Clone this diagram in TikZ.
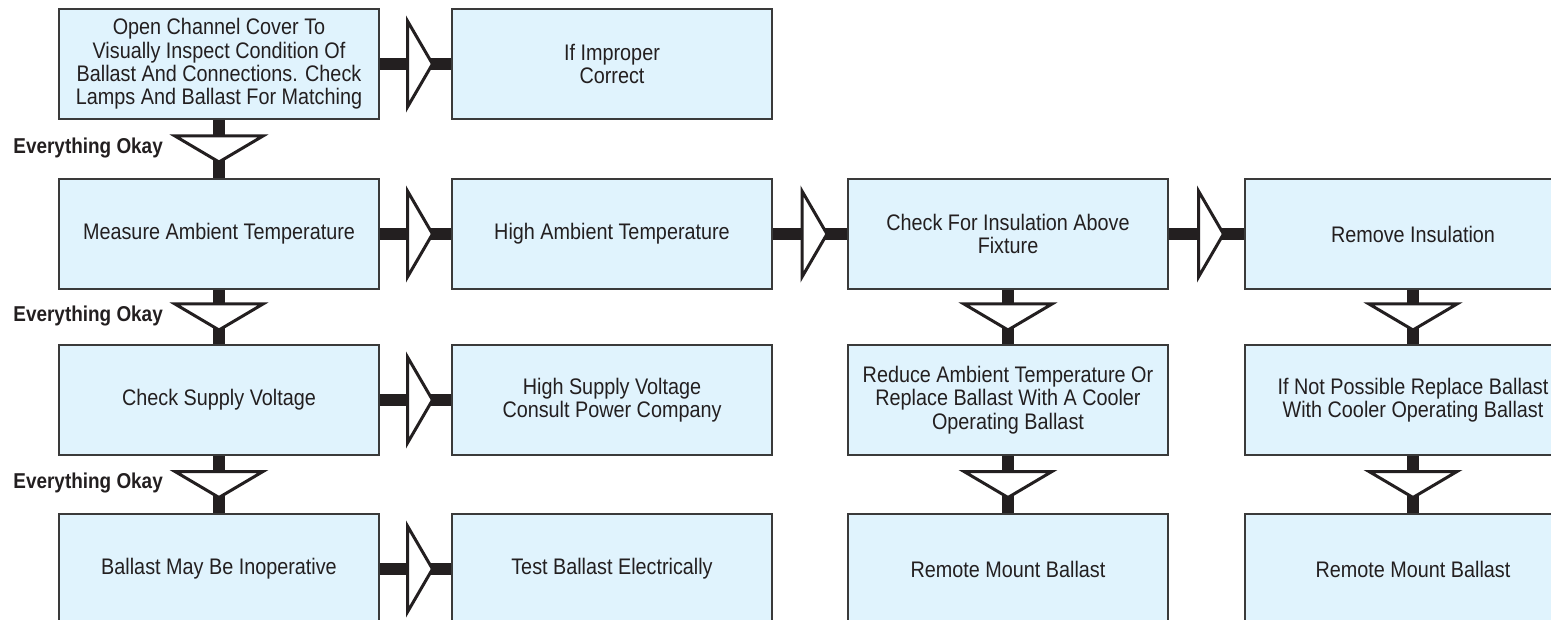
\documentclass[tikz,border=0pt]{standalone}
\usepackage{fontspec}
\setmainfont{Liberation Sans}[FakeStretch=0.88]
\usepackage{tikz}
\usetikzlibrary{positioning,calc}

\definecolor{boxfill}{RGB}{224,243,253}
\definecolor{boxline}{RGB}{58,58,58}
\definecolor{ink}{RGB}{35,31,32}

\begin{document}
\begin{tikzpicture}[
    x=1pt, y=-1pt,
    box/.style={draw=boxline, line width=2pt, fill=boxfill, text=ink, align=center, inner sep=0pt, minimum width=320pt, minimum height=110pt, font=\fontsize{22.5}{23.4}\selectfont},
    widebox/.style={box, minimum width=336pt},
    bar/.style={draw=ink, line width=12pt},
    tri/.style={draw=ink, fill=white, line width=3pt, line join=miter},
    oklabel/.style={text=ink, inner sep=0pt, font=\bfseries\fontsize{21.5}{24}\selectfont}
]
\useasboundingbox (0,0) rectangle (1551,620);

\node[box] (open) at (219,64) {Open Channel Cover To\\Visually Inspect Condition Of\\Ballast And Connections. Check\\Lamps And Ballast For Matching};
\node[box] (improper) at (612,64) {If Improper\\Correct};

\node[box] (ambient) at (219,234) {Measure Ambient Temperature};
\node[box] (hightemp) at (612,234) {High Ambient Temperature};
\node[box] (insul) at (1008,234) {Check For Insulation Above\\Fixture};
\node[widebox] (remove) at (1413,234) {Remove Insulation};

\node[box] (supply) at (219,400) {Check Supply Voltage};
\node[box] (highvolt) at (612,400) {High Supply Voltage\\Consult Power Company};
\node[box] (reduce) at (1008,400) {Reduce Ambient Temperature Or\\Replace Ballast With A Cooler\\Operating Ballast};
\node[widebox] (notposs) at (1413,400) {If Not Possible Replace Ballast\\With Cooler Operating Ballast};

\node[box] (inop) at (219,569) {Ballast May Be Inoperative};
\node[box] (test) at (612,569) {Test Ballast Electrically};
\node[box] (remote1) at (1008,569) {Remote Mount Ballast};
\node[widebox] (remote2) at (1413,569) {Remote Mount Ballast};

% sideways steps
\draw[bar] (open) -- (improper);
\draw[tri] ($(open.east)!0.5!(improper.west)+(-8,-43)$) -- ++(25,43) -- ++(-25,43) -- cycle;
\draw[bar] (ambient) -- (hightemp);
\draw[tri] ($(ambient.east)!0.5!(hightemp.west)+(-8,-43)$) -- ++(25,43) -- ++(-25,43) -- cycle;
\draw[bar] (hightemp) -- (insul);
\draw[tri] ($(hightemp.east)!0.5!(insul.west)+(-8,-43)$) -- ++(25,43) -- ++(-25,43) -- cycle;
\draw[bar] (insul) -- (remove);
\draw[tri] ($(insul.east)!0.5!(remove.west)+(-8,-43)$) -- ++(25,43) -- ++(-25,43) -- cycle;
\draw[bar] (supply) -- (highvolt);
\draw[tri] ($(supply.east)!0.5!(highvolt.west)+(-8,-43)$) -- ++(25,43) -- ++(-25,43) -- cycle;
\draw[bar] (inop) -- (test);
\draw[tri] ($(inop.east)!0.5!(test.west)+(-8,-43)$) -- ++(25,43) -- ++(-25,43) -- cycle;

% downward steps
\draw[bar] (open) -- (ambient);
\draw[tri] ($(open.south)!0.5!(ambient.north)+(-44,-13)$) -- ++(44,26) -- ++(44,-26) -- cycle;
\draw[bar] (ambient) -- (supply);
\draw[tri] ($(ambient.south)!0.5!(supply.north)+(-44,-13)$) -- ++(44,26) -- ++(44,-26) -- cycle;
\draw[bar] (supply) -- (inop);
\draw[tri] ($(supply.south)!0.5!(inop.north)+(-44,-13)$) -- ++(44,26) -- ++(44,-26) -- cycle;
\draw[bar] (insul) -- (reduce);
\draw[tri] ($(insul.south)!0.5!(reduce.north)+(-44,-13)$) -- ++(44,26) -- ++(44,-26) -- cycle;
\draw[bar] (reduce) -- (remote1);
\draw[tri] ($(reduce.south)!0.5!(remote1.north)+(-44,-13)$) -- ++(44,26) -- ++(44,-26) -- cycle;
\draw[bar] (remove) -- (notposs);
\draw[tri] ($(remove.south)!0.5!(notposs.north)+(-44,-13)$) -- ++(44,26) -- ++(44,-26) -- cycle;
\draw[bar] (notposs) -- (remote2);
\draw[tri] ($(notposs.south)!0.5!(remote2.north)+(-44,-13)$) -- ++(44,26) -- ++(44,-26) -- cycle;

\node[oklabel, anchor=base east] (ok1) at ($(open.south)+(-56,34)$) {Everything Okay};
\node[oklabel, anchor=base east] (ok2) at ($(ambient.south)+(-56,32)$) {Everything Okay};
\node[oklabel, anchor=base east] (ok3) at ($(supply.south)+(-56,32)$) {Everything Okay};

\end{tikzpicture}
\end{document}
